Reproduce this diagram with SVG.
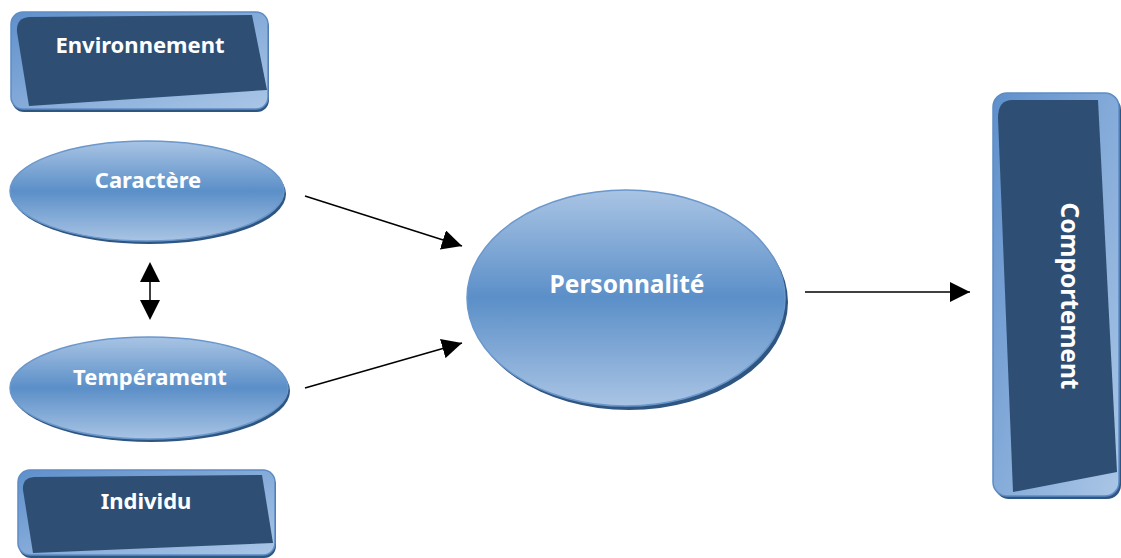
<svg xmlns="http://www.w3.org/2000/svg" width="1121" height="558" viewBox="0 0 1121 558">
<defs>
<linearGradient id="eg" x1="0" y1="0" x2="0" y2="1">
<stop offset="0" stop-color="#a9c4e4"/>
<stop offset="0.5" stop-color="#5b8fc8"/>
<stop offset="1" stop-color="#a9c4e4"/>
</linearGradient>
<linearGradient id="bg" x1="0" y1="0" x2="1" y2="1">
<stop offset="0" stop-color="#5f90cc"/>
<stop offset="1" stop-color="#aac6e6"/>
</linearGradient>
<marker id="ahb" viewBox="0 0 10 10" refX="10" refY="5" markerWidth="20" markerHeight="20" markerUnits="userSpaceOnUse" orient="auto">
<path d="M0,0 L10,5 L0,10 Z" fill="#000"/>
</marker>
</defs>
<style>
.lbl{font-family:"Noto Sans","Open Sans","DejaVu Sans",sans-serif;font-weight:bold;font-size:22px;fill:#fff;text-anchor:middle}
.big{font-size:24.5px}
.ell{fill:url(#eg);stroke:#6a97cc;stroke-width:1.5}
.sh{fill:#2f5680}
.box{fill:url(#bg);stroke:#5d8cc5;stroke-width:1.5}
.inner{fill:#2e4f73}
.con{stroke:#000;stroke-width:1.5;fill:none}
</style>
<rect width="1121" height="558" fill="#fff"/>

<g id="environnement">
<rect x="12" y="15" width="257" height="97" rx="12" class="sh"/>
<rect x="11" y="12" width="257" height="97" rx="12" class="box"/>
<path d="M29,17 L252,15 L267,90 L29,106 L17,32 Q16,18 29,17 Z" class="inner"/>
<text x="140" y="53" class="lbl">Environnement</text>
</g>

<g id="caractere">
<ellipse cx="149" cy="194" rx="137" ry="50" class="sh"/>
<ellipse cx="147" cy="191" rx="137" ry="50" class="ell"/>
<text x="148" y="188" class="lbl">Caractère</text>
</g>

<g id="temperament">
<ellipse cx="151" cy="391" rx="139" ry="51" class="sh"/>
<ellipse cx="149" cy="388" rx="139" ry="51" class="ell"/>
<text x="150" y="385" class="lbl">Tempérament</text>
</g>

<g id="individu">
<rect x="19" y="473" width="257" height="85" rx="12" class="sh"/>
<rect x="18" y="470" width="257" height="85" rx="12" class="box"/>
<path d="M34,477 L262,475 L273,543 L33,553 L23,490 Q22,478 34,477 Z" class="inner"/>
<text x="146" y="509" class="lbl">Individu</text>
</g>

<g id="personnalite">
<ellipse cx="629" cy="302" rx="159" ry="108" class="sh"/>
<ellipse cx="626" cy="298" rx="159" ry="108" class="ell"/>
<text x="627" y="293" class="lbl big">Personnalité</text>
</g>

<g id="comportement">
<rect x="995" y="96" width="126" height="403" rx="14" class="sh"/>
<rect x="993" y="93" width="126" height="403" rx="14" class="box"/>
<path d="M1012,100 L1098,100 L1117,472 L1013,492 L998,118 Q998,100 1012,100 Z" class="inner"/>
<text x="0" y="0" class="lbl big" transform="translate(1061,296) rotate(90)">Comportement</text>
</g>

<g id="connectors">
<line x1="305" y1="196" x2="462" y2="246" class="con" marker-end="url(#ahb)"/>
<line x1="305" y1="388" x2="462" y2="343" class="con" marker-end="url(#ahb)"/>
<line x1="805" y1="292" x2="970" y2="292" class="con" marker-end="url(#ahb)"/>
<line x1="150" y1="264" x2="150" y2="318" class="con"/>
<path d="M150,262 L160,282 L140,282 Z" fill="#000"/>
<path d="M150,320 L160,300 L140,300 Z" fill="#000"/>
</g>
</svg>
